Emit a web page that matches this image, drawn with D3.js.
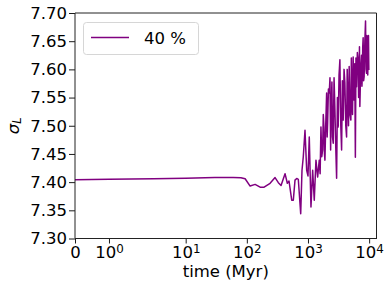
<!DOCTYPE html>
<html>
<head>
<meta charset="utf-8">
<script src="https://cdn.jsdelivr.net/npm/d3@7"></script>
<style>
body { margin: 0; background: #fff; }
text { font-family: "DejaVu Sans", sans-serif; }
</style>
</head>
<body>
<div id="chart"></div>
<script>
// time in Myr, sigma_L values
var times = [0, 1, 3, 10, 30, 60, 80, 93.8, 113.2, 136.6, 164.8, 191.6, 240, 289.5, 327.7, 362.6,
	421.5, 459.5, 489.8, 542.1, 575.7, 613.7, 654.3, 694.7, 760.2, 798.2, 838.2, 893.9, 952.3, 1000,
	1050, 1119, 1193, 1267, 1351, 1440, 1529, 1580, 1630, 1680, 1737, 1780, 1824, 1860, 1894, 1950,
	2019, 2060, 2096, 2160, 2226, 2290, 2346, 2400, 2463, 2520, 2587, 2670, 2758, 2850, 2939, 3030,
	3122, 3220, 3327, 3440, 3547, 3650, 3767, 3890, 4015, 4150, 4280, 4380, 4494, 4600, 4718, 4870,
	5029, 5120, 5222, 5350, 5483, 5580, 5692, 5820, 5956, 6090, 6231, 6420, 6618, 6730, 6843, 6950,
	7053, 7280, 7516, 7630, 7746, 7860, 7983, 8130, 8288, 8510, 8736, 8900, 9070, 9200, 9347, 9490,
	9632, 9760, 9888];
var sigma = [7.404, 7.405, 7.406, 7.407, 7.408, 7.408, 7.4076, 7.406, 7.393, 7.396, 7.391, 7.391, 7.398, 7.408, 7.399, 7.394,
	7.415, 7.398, 7.402, 7.368, 7.368, 7.4035, 7.4065, 7.405, 7.344, 7.421, 7.445, 7.492, 7.421, 7.411,
	7.480, 7.356, 7.421, 7.368, 7.439, 7.409, 7.439, 7.415, 7.498, 7.445, 7.457, 7.52, 7.498, 7.45, 7.439, 7.50,
	7.558, 7.48, 7.505, 7.565, 7.558, 7.585, 7.457, 7.53, 7.5775, 7.48, 7.469, 7.585, 7.528, 7.46, 7.407, 7.55,
	7.498, 7.59, 7.617, 7.50, 7.457, 7.58, 7.510, 7.60, 7.576, 7.50, 7.480, 7.60, 7.5455, 7.50, 7.605, 7.52,
	7.510, 7.62, 7.563, 7.52, 7.622, 7.56, 7.5455, 7.61, 7.444, 7.62, 7.569, 7.63, 7.617, 7.55, 7.554, 7.64,
	7.534, 7.60, 7.625, 7.57, 7.590, 7.64, 7.656, 7.58, 7.587, 7.65, 7.686, 7.60, 7.593, 7.66, 7.6485, 7.59,
	7.617, 7.66, 7.599];
var seriesName = "40 %";
var xTicks = [0, 1, 10, 100, 1000, 10000];
var xTickExp = [null, 0, 1, 2, 3, 4];
var yTicks = [7.30, 7.35, 7.40, 7.45, 7.50, 7.55, 7.60, 7.65, 7.70];

var chart_width = 392, chart_height = 290;
var pLeft = 75, pRight = 376.5, pTop = 13, pBottom = 238.5;
var fs = 16.5;
var color = '#800080';

// matplotlib style symlog (linthresh 2, linscale 1)
var linthresh = 2, linscaleAdj = 1 / (1 - 1 / 10);
function symlog(t){
	return t <= linthresh ? t * linscaleAdj : linthresh * (linscaleAdj + Math.log10(t / linthresh));
}

var x = d3.scaleLinear().domain([0, symlog(13200)]).range([pLeft, pRight]);
var y = d3.scaleLinear().domain([7.30, 7.70]).range([pBottom, pTop]);

var svg = d3.select('#chart')
	.append('svg')
	.attr('width', chart_width)
	.attr('height', chart_height);

// line
var data = times.map(function(t, i){ return [t, sigma[i]]; });
var line = d3.line()
	.x(function(d){ return x(symlog(d[0])); })
	.y(function(d){ return y(d[1]); });
svg.append('path')
	.datum(data)
	.attr('d', line)
	.attr('fill', 'none')
	.attr('stroke', color)
	.attr('stroke-width', 1.5)
	.attr('stroke-linejoin', 'round');

// axes
var yAxis = svg.append('g')
	.attr('transform', 'translate(' + pLeft + ',0)')
	.call(d3.axisLeft(y).tickValues(yTicks).tickFormat(d3.format('.2f')).tickSize(6).tickPadding(2));
yAxis.select('.domain').remove();
yAxis.selectAll('text').attr('font-size', fs).attr('fill', '#000').attr('font-family', '"DejaVu Sans"');
yAxis.selectAll('line').attr('stroke', '#000').attr('stroke-width', 0.9);

var xAxis = svg.append('g')
	.attr('transform', 'translate(0,' + pBottom + ')')
	.call(d3.axisBottom(x).tickValues(xTicks.map(symlog)).tickFormat('').tickSize(5).tickPadding(3));
xAxis.select('.domain').remove();
xAxis.selectAll('line').attr('stroke', '#000').attr('stroke-width', 0.9);
xAxis.selectAll('text').each(function(d, i){
	var t = d3.select(this)
		.attr('font-size', fs)
		.attr('fill', '#000')
		.attr('font-family', '"DejaVu Sans"');
	if (xTickExp[i] === null) {
		t.text('0');
	} else {
		t.append('tspan').text('10');
		t.append('tspan').attr('font-size', fs * 0.72).attr('dy', '-0.4em').text(xTickExp[i]);
	}
});

// spines
svg.append('line').attr('x1', pLeft).attr('x2', pLeft).attr('y1', pTop).attr('y2', pBottom).attr('stroke', '#222');
svg.append('line').attr('x1', pLeft).attr('x2', pRight).attr('y1', pTop).attr('y2', pTop).attr('stroke', '#222');
svg.append('line').attr('x1', pRight).attr('x2', pRight).attr('y1', pTop).attr('y2', pBottom + 0.5).attr('stroke', '#222');
svg.append('line').attr('x1', pLeft).attr('x2', pRight).attr('y1', pBottom).attr('y2', pBottom).attr('stroke', '#222');

// labels
svg.append('text')
	.attr('x', (pLeft + pRight) / 2)
	.attr('y', 277)
	.attr('text-anchor', 'middle')
	.attr('font-size', fs)
	.text('time (Myr)');

var yl = svg.append('text')
	.attr('transform', 'translate(18.5,' + ((pTop + pBottom) / 2) + ') rotate(-90)')
	.attr('text-anchor', 'middle')
	.attr('font-size', fs);
yl.append('tspan').attr('font-style', 'italic').text('σ');
yl.append('tspan').attr('font-style', 'italic').attr('font-size', fs * 0.7).attr('dy', '0.25em').text('L');

// legend
var lg = svg.append('g');
lg.append('rect')
	.attr('x', 83.5).attr('y', 22.5)
	.attr('width', 115).attr('height', 32)
	.attr('rx', 3)
	.attr('fill', '#fff').attr('fill-opacity', 0.8)
	.attr('stroke', '#d6d6d6');
lg.append('line')
	.attr('x1', 91).attr('x2', 129)
	.attr('y1', 37.5).attr('y2', 37.5)
	.attr('stroke', color).attr('stroke-width', 1.5);
lg.append('text')
	.attr('x', 144).attr('y', 44.3)
	.attr('font-size', fs)
	.text(seriesName);
</script>
</body>
</html>
